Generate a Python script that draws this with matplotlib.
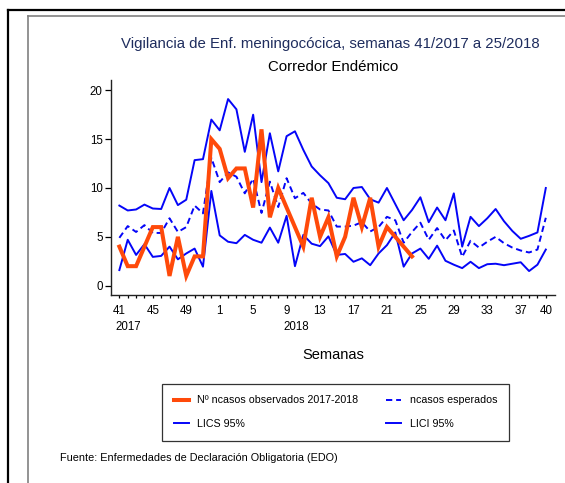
import matplotlib
matplotlib.use("Agg")
import matplotlib.pyplot as plt
from matplotlib.lines import Line2D
from matplotlib.transforms import blended_transform_factory
import numpy as np

# ---- data ----
semanas = list(range(41, 53)) + list(range(1, 41))
observados = [4, 2, 2, 4, 6, 6, 1, 5, 1, 3, 3, 15, 14, 11, 12, 12, 8, 16, 7, 10,
              8, 6, 4, 9, 5, 7, 3, 5, 9, 6, 9, 4, 6, 5, 4, 3]
esperados = [4.9, 6.1, 5.5, 6.2, 5.4, 5.4, 6.9, 5.5, 6.0, 8.2, 7.4, 13.1, 10.6, 11.6,
             11.15, 9.45, 10.95, 7.45, 10.65, 8.05, 11.0, 8.95, 9.5, 8.4, 7.8, 7.7,
             6.05, 6.05, 6.15, 6.5, 5.55, 6.0, 7.05, 6.7, 4.4, 5.5, 6.45, 4.7, 5.9,
             4.65, 5.65, 2.95, 4.6, 3.9, 4.5, 5.0, 4.35, 3.9, 3.6, 3.4, 3.7, 6.95]
lics = [8.2, 7.7, 7.8, 8.3, 7.9, 7.85, 10.0, 8.25, 8.8, 12.85, 12.95, 17.0, 15.9, 19.1,
        18.05, 13.7, 17.5, 10.6, 15.6, 11.7, 15.3, 15.8, 13.9, 12.2, 11.3, 10.5, 9.0,
        8.85, 10.0, 10.1, 8.85, 8.5, 10.0, 8.35, 6.7, 7.75, 9.05, 6.5, 8.0, 6.7, 9.45,
        4.0, 7.05, 6.1, 6.9, 7.85, 6.6, 5.6, 4.8, 5.1, 5.45, 10.0]
lici = [1.6, 4.7, 3.15, 4.25, 2.95, 3.05, 4.0, 2.7, 3.3, 3.8, 1.95, 9.7, 5.15, 4.5,
        4.35, 5.2, 4.7, 4.4, 5.95, 4.4, 7.15, 2.0, 5.2, 4.3, 4.05, 5.05, 3.15, 3.25,
        2.45, 2.8, 2.1, 3.3, 4.15, 5.45, 1.95, 3.3, 3.8, 2.75, 4.1, 2.55, 2.15, 1.8,
        2.45, 1.8, 2.2, 2.25, 2.1, 2.25, 2.4, 1.5, 2.15, 3.7]
etiquetas_x = ['41', '45', '49', '1', '5', '9', '13', '17', '21', '25', '29', '33', '37', '40']
anios = ['2017', '2018']
anio_semana = [41, 9]
yticks = [0, 5, 10, 15, 20]

titulo = "Vigilancia de Enf. meningocócica, semanas 41/2017 a 25/2018"
subtitulo = "Corredor Endémico"
xlabel = "Semanas"
fuente = "Fuente: Enfermedades de Declaración Obligatoria (EDO)"
ley_obs = "Nº ncasos observados 2017-2018"
ley_esp = "ncasos esperados"
ley_lics = "LICS 95%"
ley_lici = "LICI 95%"

# ---- figure ----
plt.rcParams['font.family'] = ['Liberation Sans', 'DejaVu Sans']
plt.rcParams['lines.scale_dashes'] = False
W, H = 565, 483
fig = plt.figure(figsize=(W / 100, H / 100), dpi=100)

def px(x0, y0, x1, y1):
    return [x0 / W, 1 - y0 / H, (x1 - x0) / W, (y0 - y1) / H]

ax = fig.add_axes(px(111, 295, 555, 80))

x_all = np.arange(len(semanas))
x_obs = np.arange(len(observados))
blue = '#0505F8'
orange = '#FF4A0A'

l_lics, = ax.plot(x_all, lics, color=blue, lw=1.4, label=ley_lics)
l_lici, = ax.plot(x_all, lici, color=blue, lw=1.4, label=ley_lici)
l_esp, = ax.plot(x_all, esperados, color=blue, lw=1.4, dashes=(4.5, 2.8), label=ley_esp)
l_obs, = ax.plot(x_obs, observados, color=orange, lw=2.9, label=ley_obs,
                 solid_joinstyle='miter')

ax.set_xlim(-1, 52.1)
ax.set_ylim(-0.95, 21.05)

for s in ['top', 'right']:
    ax.spines[s].set_visible(False)
for s in ['left', 'bottom']:
    ax.spines[s].set_linewidth(1.0)
    ax.spines[s].set_color('#222222')

ax.set_yticks(yticks)
ax.set_yticklabels([str(v) for v in yticks])
ax.tick_params(axis='y', length=4, width=0.9, pad=2, labelsize=8.3)

pos = [semanas.index(int(e)) for e in etiquetas_x]
ax.set_xticks(pos)
ax.set_xticklabels(etiquetas_x)
ax.set_xticks(x_all, minor=True)
ax.tick_params(axis='x', which='both', length=2.5, width=0.9, pad=5, labelsize=8.3)

trans = blended_transform_factory(ax.transData, ax.transAxes)
for a, w in zip(anios, anio_semana):
    i = semanas.index(w)
    ax.text(i - 0.42, (295 - 327.5) / 215, a, transform=trans, ha='left', va='center',
            fontsize=8.3)

fig.text(333 / W, 1 - 355 / H, xlabel, ha='center', va='center', fontsize=10.5)
fig.text(330 / W, 1 - 44 / H, titulo, ha='center', va='center', fontsize=10.8,
         color='#1F2D5E')
fig.text(333 / W, 1 - 67 / H, subtitulo, ha='center', va='center', fontsize=10.8,
         color='black')
fig.text(60 / W, 1 - 458 / H, fuente, ha='left', va='center', fontsize=7.8)

leg = fig.legend([l_obs, l_lics, l_esp, l_lici], [ley_obs, ley_lics, ley_esp, ley_lici],
                 ncol=2, loc='lower left', mode='expand',
                 bbox_to_anchor=(162 / W, 1 - 441 / H, (509 - 162) / W, (441 - 384) / H),
                 fontsize=7.7, frameon=True, fancybox=False, handlelength=1.4,
                 handletextpad=0.8, labelspacing=1.3, borderpad=1.1,
                 borderaxespad=0, columnspacing=1.0)
leg.get_frame().set_edgecolor('black')
leg.get_frame().set_linewidth(0.9)

# outer frames
fig.add_artist(Line2D([8 / W, 8 / W], [0, 1 - 10 / H], color='black', lw=1.6,
                      transform=fig.transFigure))
fig.add_artist(Line2D([8 / W, 1], [1 - 10 / H, 1 - 10 / H], color='black', lw=1.6,
                      transform=fig.transFigure))
fig.add_artist(Line2D([27.5 / W, 27.5 / W], [0, 1 - 16 / H], color='#808080', lw=1.2,
                      transform=fig.transFigure))
fig.add_artist(Line2D([27.5 / W, 1], [1 - 16 / H, 1 - 16 / H], color='#808080', lw=1.2,
                      transform=fig.transFigure))

fig.savefig('out.png', dpi=100)
